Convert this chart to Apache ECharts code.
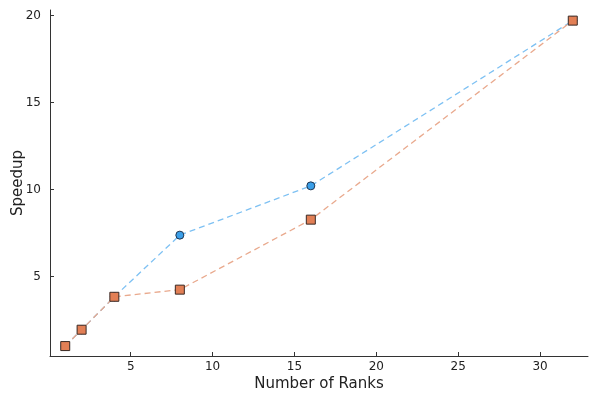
<!DOCTYPE html>
<html>
<head>
<meta charset="utf-8">
<script src="https://cdn.jsdelivr.net/npm/echarts@6/dist/echarts.min.js"></script>
<style>html,body{margin:0;padding:0;background:#fff}#c{width:600px;height:400px}</style>
</head>
<body>
<div id="c"></div>
<script>
const ranks = [1, 2, 4, 8, 16, 32];
const speedupBlue = [1.01, 1.95, 3.84, 7.38, 10.21, 19.7];
const speedupOrange = [1.01, 1.95, 3.84, 4.25, 8.27, 19.7];
const xTicks = [5, 10, 15, 20, 25, 30];
const yTicks = [5, 10, 15, 20];

const chart = echarts.init(document.getElementById('c'), null, {renderer: 'canvas'});
const font = 'DejaVu Sans';
const axisCommon = {
  axisLine: {show: true, lineStyle: {color: '#333', width: 1}},
  axisTick: {show: true, inside: true, length: 4, lineStyle: {color: '#333'}},
  splitLine: {show: false},
  nameTextStyle: {fontFamily: font, fontSize: 15, color: '#222'},
  nameLocation: 'middle',
  nameMoveOverlap: false
};
chart.setOption({
  animation: false,
  backgroundColor: '#fff',
  grid: {left: 50, right: 12, top: 10, bottom: 44, containLabel: false, outerBoundsMode: 'none'},
  xAxis: Object.assign({}, axisCommon, {
    type: 'value', min: 0.07, max: 32.93,
    name: 'Number of Ranks', nameGap: 21,
    axisTick: Object.assign({}, axisCommon.axisTick, {customValues: xTicks}),
    axisLabel: {customValues: xTicks, fontFamily: font, fontSize: 12, color: '#222', margin: 5}
  }),
  yAxis: Object.assign({}, axisCommon, {
    type: 'value', min: 0.44, max: 20.31,
    name: 'Speedup', nameGap: 24,
    axisTick: Object.assign({}, axisCommon.axisTick, {customValues: yTicks}),
    axisLabel: {customValues: yTicks, fontFamily: font, fontSize: 12, color: '#222', margin: 9}
  }),
  series: [
    {
      type: 'line', data: ranks.map((r, i) => [r, speedupBlue[i]]),
      symbol: 'circle', symbolSize: 8,
      itemStyle: {color: '#3a9fe9', borderColor: '#1f3550', borderWidth: 1},
      lineStyle: {color: '#7ec1f3', width: 1.3, type: [6, 4]}
    },
    {
      type: 'line', data: ranks.map((r, i) => [r, speedupOrange[i]]),
      symbol: 'rect', symbolSize: 9,
      itemStyle: {color: '#e27f55', borderColor: '#3a2a25', borderWidth: 1},
      lineStyle: {color: '#e9a98d', width: 1.3, type: [6, 4]}
    }
  ]
});
</script>
</body>
</html>
